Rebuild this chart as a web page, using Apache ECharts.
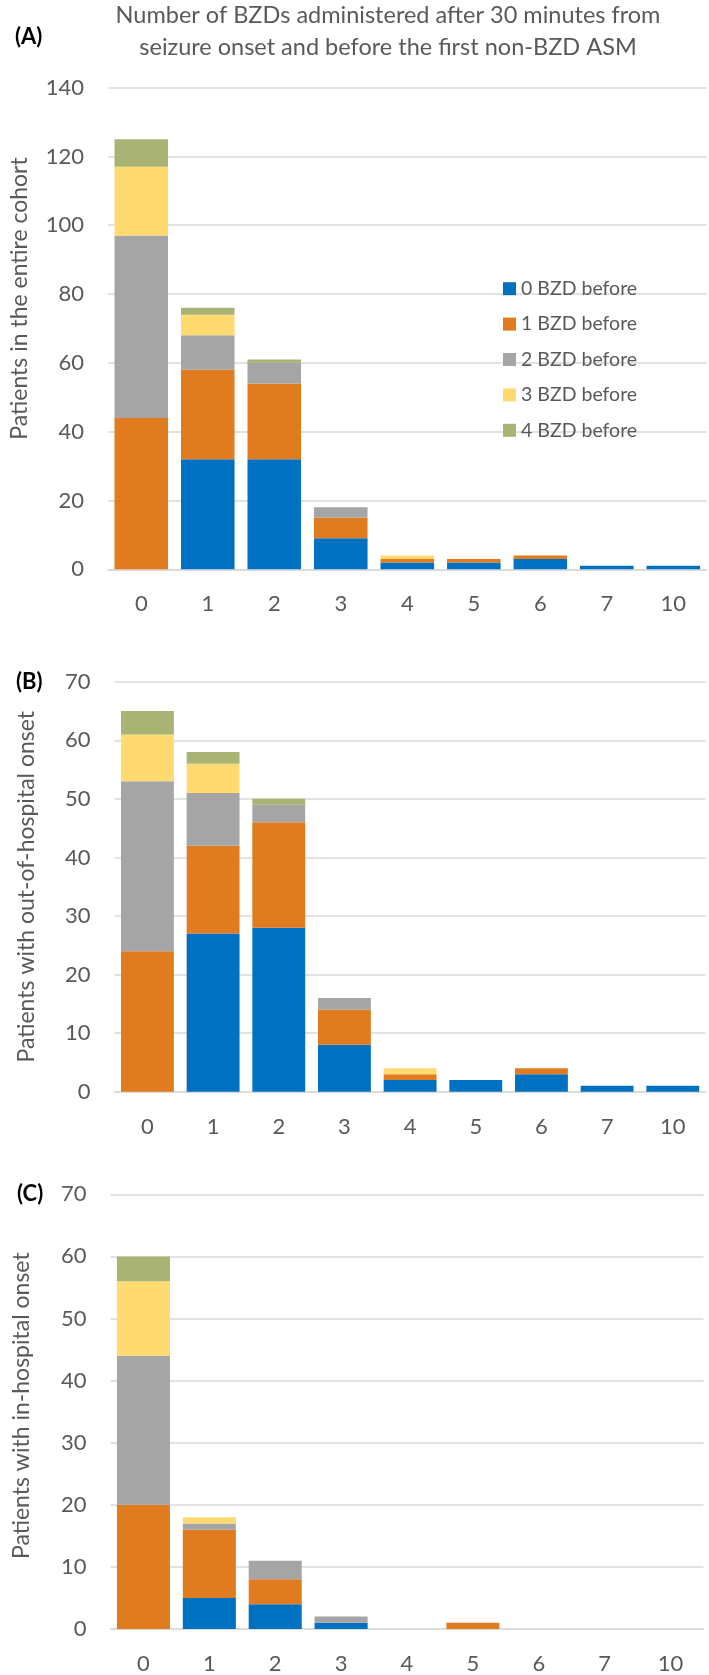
<!DOCTYPE html>
<html>
<head>
<meta charset="utf-8">
<script src="https://cdn.jsdelivr.net/npm/echarts@6/dist/echarts.min.js"></script>
<style>
html,body{margin:0;padding:0;background:#fff;}
#chart{width:709px;height:1675px;}
</style>
</head>
<body>
<div id="chart"></div>
<script>
// ---- data ----
const categories = ['0','1','2','3','4','5','6','7','10'];
const seriesNames = ['0 BZD before','1 BZD before','2 BZD before','3 BZD before','4 BZD before'];
const colors = ['#0070C0','#E17B1F','#A5A5A5','#FFDA71','#A9B474'];

// (A) entire cohort
const zeroA  = [0,32,32,9,2,2,3,1,1];
const oneA   = [44,26,22,6,1,1,1,0,0];
const twoA   = [53,10,6,3,0,0,0,0,0];
const threeA = [20,6,0,0,1,0,0,0,0];
const fourA  = [8,2,1,0,0,0,0,0,0];
// (B) out-of-hospital onset
const zeroB  = [0,27,28,8,2,2,3,1,1];
const oneB   = [24,15,18,6,1,0,1,0,0];
const twoB   = [29,9,3,2,0,0,0,0,0];
const threeB = [8,5,0,0,1,0,0,0,0];
const fourB  = [4,2,1,0,0,0,0,0,0];
// (C) in-hospital onset
const zeroC  = [0,5,4,1,0,0,0,0,0];
const oneC   = [20,11,4,0,0,1,0,0,0];
const twoC   = [24,1,3,1,0,0,0,0,0];
const threeC = [12,1,0,0,0,0,0,0,0];
const fourC  = [4,0,0,0,0,0,0,0,0];

const axisNames = ['Patients in the entire cohort','Patients with out-of-hospital onset','Patients with in-hospital onset'];
const panelLabels = ['(A)','(B)','(C)'];
const titleLines = ['Number of BZDs administered after 30 minutes from','seizure onset and before the first non-BZD ASM'];
const yMax = [140,70,70];
const yInterval = [20,10,10];

// ---- chart ----
const FONT = 'Lato';
const TXT = '#595959';
const GRIDC = '#D9D9D9';
const panels = [
  [zeroA,oneA,twoA,threeA,fourA],
  [zeroB,oneB,twoB,threeB,fourB],
  [zeroC,oneC,twoC,threeC,fourC]
];
const grids = [
  {left:104.6, top:87.6, width:602, height:481.7},
  {left:114.6, top:681.7, width:591, height:410},
  {left:110.5, top:1194.3, width:593, height:435.7}
];
const namePad = [[0,0,0,60],[0,0,0,0],[0,0,0,12]];

const xAxis = [], yAxis = [], series = [];
grids.forEach((g,i)=>{
  xAxis.push({
    type:'category', gridIndex:i, data:categories,
    axisLine:{show:true, lineStyle:{color:GRIDC, width:1.5}},
    axisTick:{show:false},
    axisLabel:{color:TXT, fontFamily:FONT, fontSize:22, margin:24}
  });
  yAxis.push({
    type:'value', gridIndex:i, min:0, max:yMax[i], interval:yInterval[i],
    name:axisNames[i], nameLocation:'middle', nameGap:77,
    nameTextStyle:{color:TXT, fontFamily:FONT, fontSize:23, padding:namePad[i]},
    axisLine:{show:false}, axisTick:{show:false},
    axisLabel:{color:TXT, fontFamily:FONT, fontSize:22, margin:24},
    splitLine:{lineStyle:{color:GRIDC, width:1.5}}
  });
  panels[i].forEach((arr,k)=>{
    series.push({
      type:'bar', name:seriesNames[k], xAxisIndex:i, yAxisIndex:i,
      stack:'s'+i, data:arr, barCategoryGap:'19.5%',
      itemStyle:{color:colors[k]}, emphasis:{disabled:true},
      animation:false
    });
  });
});

const graphic = [];
titleLines.forEach((t,j)=>{
  graphic.push({type:'text', x:388, y:15+j*32, style:{text:t, fill:TXT, font:'23.5px '+FONT, textAlign:'center', textVerticalAlign:'middle'}});
});
const labelPos = [[15,37],[16,682],[17,1194]];
panelLabels.forEach((t,j)=>{
  graphic.push({type:'text', x:labelPos[j][0], y:labelPos[j][1], style:{text:t, fill:'#000', font:'bold 22px '+FONT, textAlign:'left', textVerticalAlign:'middle'}});
});

const chart = echarts.init(document.getElementById('chart'), null, {renderer:'canvas'});
chart.setOption({
  animation:false,
  backgroundColor:'#fff',
  color:colors,
  grid:grids,
  xAxis:xAxis,
  yAxis:yAxis,
  legend:{
    data:seriesNames, orient:'vertical', left:498, top:272.7,
    icon:'rect', itemWidth:13, itemHeight:13, itemGap:13.4,
    textStyle:{color:TXT, fontFamily:FONT, fontSize:19.5, lineHeight:22},
    selectedMode:false
  },
  graphic:graphic,
  series:series
});
</script>
</body>
</html>
